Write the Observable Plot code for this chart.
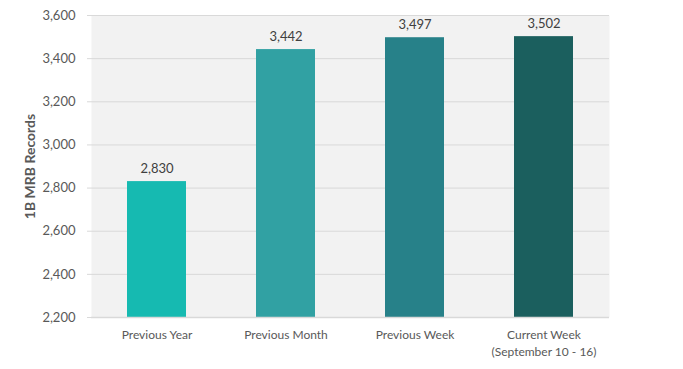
<!DOCTYPE html>
<html>
<head>
<meta charset="utf-8">
<script src="https://cdn.jsdelivr.net/npm/d3@7"></script>
<script src="https://cdn.jsdelivr.net/npm/@observablehq/plot@0.6"></script>
<style>
  html, body { margin: 0; padding: 0; background: #ffffff; }
</style>
</head>
<body>
<div id="chart"></div>
<script>
const categories = ["Previous Year", "Previous Month", "Previous Week", "Current Week\n(September 10 - 16)"];
const values = [2830, 3442, 3497, 3502];
const colors = ["#16bab1", "#31a1a3", "#278189", "#1b5f5e"];
const yTicks = [2200, 2400, 2600, 2800, 3000, 3200, 3400, 3600];
const yTitle = "1B MRB Records";

const data = categories.map((c, i) => ({category: c, value: values[i], color: colors[i]}));
const fmt = d3.format(",");

const chart = Plot.plot({
  width: 683,
  height: 369,
  marginLeft: 91,
  marginRight: 74,
  marginTop: 15,
  marginBottom: 52,
  style: {fontFamily: "Lato, sans-serif", fontSize: "13px", background: "#ffffff", color: "#595959"},
  x: {domain: categories, paddingInner: 0.54, paddingOuter: 0.27, label: null},
  y: {domain: [yTicks[0], yTicks[yTicks.length - 1]], label: null},
  color: {type: "identity"},
  marks: [
    Plot.frame({fill: "#f2f2f2", stroke: "none"}),
    Plot.gridY(yTicks, {stroke: "#d9d9d9", strokeOpacity: 1, strokeWidth: 1}),
    Plot.axisY(yTicks, {tickSize: 4, tickPadding: 12, stroke: "#d9d9d9", fill: "#595959", tickFormat: fmt, label: null, fontSize: 13}),
    Plot.barY(data, {x: "category", y1: () => yTicks[0], y2: "value", fill: "color"}),
    Plot.ruleY([yTicks[0]], {stroke: "#d9d9d9", strokeWidth: 1.5}),
    Plot.text(data, {x: "category", y: "value", text: d => fmt(d.value), dy: -13, fill: "#404040", fontSize: 13}),
    Plot.axisX({tickSize: 0, tickPadding: 10, lineHeight: 1.4, fill: "#595959", fontSize: 12, label: null}),
    Plot.text([yTitle], {frameAnchor: "left", rotate: -90, dx: -61, textAnchor: "middle", lineAnchor: "middle", fontWeight: "bold", fill: "#595959", fontSize: 14})
  ]
});
document.getElementById("chart").appendChild(chart);
</script>
</body>
</html>
